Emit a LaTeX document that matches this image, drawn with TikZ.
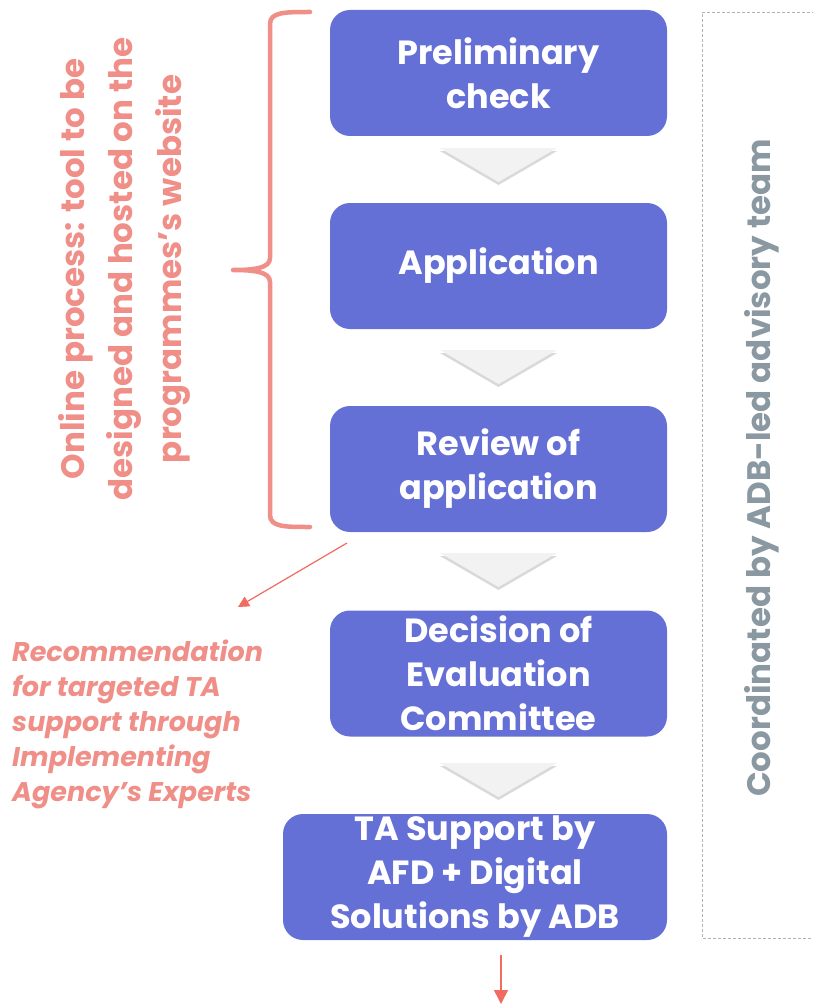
\documentclass[tikz,border=0pt]{standalone}
\usepackage{fontspec}
\setmainfont{Poppins}
\usetikzlibrary{arrows.meta,shadows}
\definecolor{boxblue}{HTML}{6570D6}
\definecolor{salmon}{HTML}{F08E88}
\definecolor{arrowred}{HTML}{F26A60}
\definecolor{teamgray}{HTML}{8A98A2}
\definecolor{chevgray}{HTML}{F2F2F2}
\tikzset{
  stepbox/.style={fill=boxblue, rounded corners=20pt, minimum height=126pt,
    text=white, font=\fontsize{33.5}{44}\selectfont\bfseries, align=center, inner sep=0pt},
  chev/.style={fill=chevgray, draw=none, drop shadow={shadow xshift=0pt, shadow yshift=-3pt, opacity=0.25, fill=black!60}},
  redarrow/.style={draw=arrowred, fill=arrowred, line width=1.5pt, -{Triangle[length=14pt,width=14pt]}},
}
\begin{document}
\begin{tikzpicture}[x=1pt,y=-1pt]
\useasboundingbox (0,0) rectangle (813,1006);
% boxes
\node[stepbox, minimum width=337pt] (b1) at (498.5,73) {Preliminary\\check};
\node[stepbox, minimum width=337pt] (b2) at (498.5,266) {Application};
\node[stepbox, minimum width=337pt] (b3) at (498.5,469) {Review of\\application};
\node[stepbox, minimum width=337pt] (b4) at (498.5,673.5) {Decision of\\Evaluation\\Committee};
\node[stepbox, minimum width=384pt] (b5) at (475,877) {TA Support by\\AFD + Digital\\Solutions by ADB};
% chevrons
\foreach \t in {148,350,553,763}{
  \path[chev] (440,\t) -- (557,\t) -- (498.5,\t+34) -- cycle;
}
% dashed frame
\draw[densely dashed, draw=black!30, line width=0.8pt] (820,12) -- (702,12) -- (702,938) -- (820,938);
\node[rotate=90, text=teamgray, font=\fontsize{32.5}{36}\selectfont\bfseries] (team) at (762,468) {Coordinated by ADB-led advisory team};
% brace
\draw[salmon, line width=4.5pt, line cap=round, line join=round]
  (310,12) .. controls (285,12) and (270,12) .. (270,24) -- (270,258)
  .. controls (270,268) and (255,270) .. (233,270)
  .. controls (255,270) and (270,272) .. (270,282) -- (270,515)
  .. controls (270,527) and (285,527) .. (310,527);
\node[rotate=90, text=salmon, font=\fontsize{32.5}{48.5}\selectfont\bfseries, align=center] (online) at (124,269)
  {Online process: tool to be\\designed and hosted on the\\programmes's website};
% recommendation
\node[anchor=north west, text=salmon, font=\fontsize{27}{34.8}\selectfont\bfseries\itshape, align=left, inner sep=0pt] (rec) at (12,640)
  {Recommendation\\for targeted TA\\support through\\Implementing\\Agency’s Experts};
\coordinate (rs) at (347,543);
\coordinate (re) at (238,607);
\draw[redarrow, line width=1.2pt, -{Triangle[length=11pt,width=11pt]}] (rs) -- (re);
\coordinate (bs) at (501,955);
\coordinate (be) at (501,1004);
\draw[redarrow] (bs) -- (be);
\end{tikzpicture}
\end{document}
